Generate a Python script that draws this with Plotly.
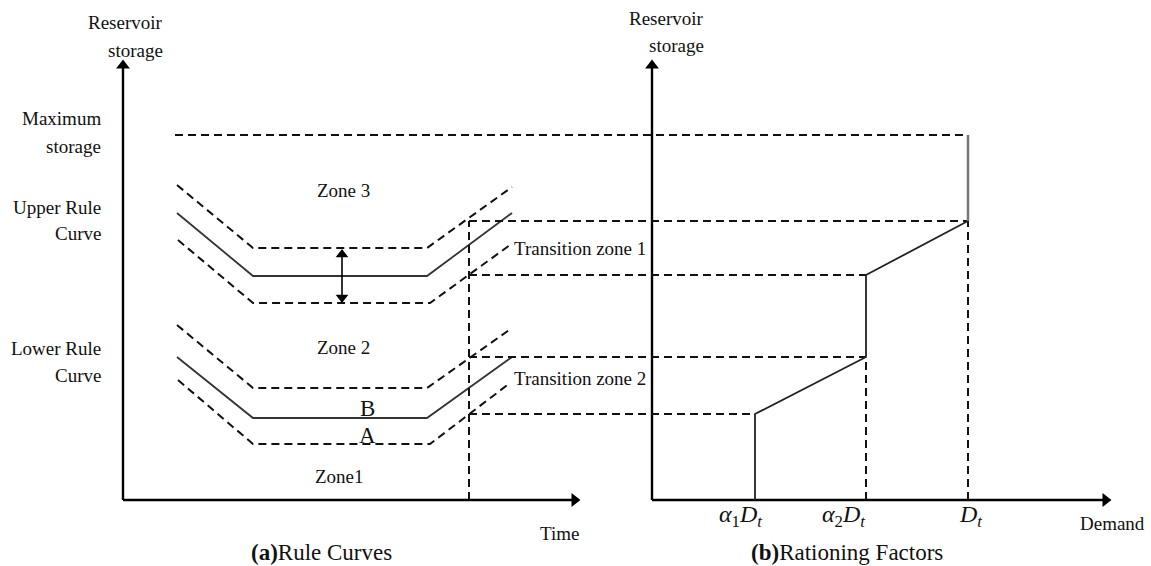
import plotly.graph_objects as go

# ---------------- schematic data (diagram units) ----------------
# storage levels
AXIS_TOP = 4.40
MAX_STORAGE = 3.65
# rule-curve knots (time) and storage values
T_KNOTS = [0.54, 1.30, 3.04, 3.89]
T_KNOTS_LOW = [0.55, 1.30, 3.07, 3.87]
URC_TOP = [3.15, 2.52, 2.52, 3.13]
URC = [2.87, 2.24, 2.24, 2.87]
URC_LOW = [2.60, 1.97, 1.97, 2.55]
LRC_TOP = [1.75, 1.12, 1.12, 1.72]
LRC = [1.43, 0.82, 0.82, 1.43]
LRC_LOW = [1.20, 0.56, 0.56, 1.17]
T_MAX_START = 0.52
T_CUT = 3.46
T_AXIS_END = 4.57
# storage levels at the cut time (transition zone limits)
LEVELS = [2.79, 2.25, 1.43, 0.86]
# demand panel positions
DEMAND_ORIGIN = 5.29
ALPHA1 = 6.32
ALPHA2 = 7.43
DT = 8.45
DEMAND_AXIS_END = 9.88
DEMAND_TICKS = [6.17, 7.20, 8.47]
DEMAND_TICK_TEXT = ["<i>α</i><sub>1</sub><i>D</i><sub><i>t</i></sub>",
                    "<i>α</i><sub>2</sub><i>D</i><sub><i>t</i></sub>",
                    "<i>D</i><sub><i>t</i></sub>"]
SPREAD_T = 2.19
SPREAD_Y = [2.50, 1.98]

FONT = "Liberation Serif"
DASH = "8px,5px"
HEAD = 0.05  # arrowhead centre offset from tip (diagram units)
fig = go.Figure()


def line(x, y, dash=None, color="#222", width=1.8):
    fig.add_trace(go.Scatter(x=x, y=y, mode="lines", hoverinfo="skip",
                             line=dict(color=color, width=width, dash=dash or "solid")))


def head(x, y, symbol, size=12):
    fig.add_trace(go.Scatter(x=[x], y=[y], mode="markers", hoverinfo="skip",
                             marker=dict(symbol=symbol, size=size, color="#000",
                                         line=dict(width=0))))


# axes (left: time, right: demand)
line([0, 0], [0, AXIS_TOP - HEAD], None, "#000", 2.4)
line([0, T_AXIS_END - HEAD], [0, 0], None, "#000", 2.4)
line([DEMAND_ORIGIN, DEMAND_ORIGIN], [0, AXIS_TOP - HEAD], None, "#000", 2.4)
line([DEMAND_ORIGIN, DEMAND_AXIS_END - HEAD], [0, 0], None, "#000", 2.4)
head(0, AXIS_TOP - 0.055, "triangle-up")
head(DEMAND_ORIGIN, AXIS_TOP - 0.055, "triangle-up")
head(T_AXIS_END - 0.055, 0, "triangle-right")
head(DEMAND_AXIS_END - 0.055, 0, "triangle-right")

# rule curves (left panel)
line(T_KNOTS, URC_TOP, DASH, "#111", 2)
line(T_KNOTS, URC, None, "#333", 1.8)
line(T_KNOTS_LOW, URC_LOW, DASH, "#111", 2)
line(T_KNOTS, LRC_TOP, DASH, "#111", 2)
line(T_KNOTS, LRC, None, "#333", 1.8)
line(T_KNOTS_LOW, LRC_LOW, DASH, "#111", 2)

# buffer-zone double arrow
line([SPREAD_T, SPREAD_T], SPREAD_Y, None, "#000", 1.6)
head(SPREAD_T, SPREAD_Y[0] - 0.045, "triangle-up", 11)
head(SPREAD_T, SPREAD_Y[1] + 0.045, "triangle-down", 11)

# maximum storage line
line([T_MAX_START, DT], [MAX_STORAGE, MAX_STORAGE], DASH, "#111", 2)
# cut-time vertical
line([T_CUT, T_CUT], [0, LEVELS[0]], DASH, "#111", 2)
# horizontal projections
ends = [DT, ALPHA2, ALPHA2, ALPHA1]
for lev, xe in zip(LEVELS, ends):
    line([T_CUT, xe], [lev, lev], DASH, "#111", 2)
# vertical dashed in demand panel
line([ALPHA2, ALPHA2], [0, LEVELS[2]], DASH, "#111", 2)
line([DT, DT], [0, LEVELS[0]], DASH, "#111", 2)
# rationing curve
line([ALPHA1, ALPHA1, ALPHA2, ALPHA2, DT], [0, LEVELS[3], LEVELS[2], LEVELS[1], LEVELS[0]],
     None, "#222", 1.8)
line([DT, DT], [LEVELS[0], MAX_STORAGE], None, "#777", 2.5)

anns = []


def txt(x, y, s, anchor="center", size=19):
    anns.append(dict(x=x, y=y, xref="x", yref="y", text=s, showarrow=False, xanchor=anchor,
                     yanchor="middle", font=dict(family=FONT, size=size, color="#111")))


txt(0.42, 4.78, "Reservoir", "right")
txt(0.42, 4.50, "storage", "right")
txt(-0.20, 3.82, "Maximum", "right")
txt(-0.20, 3.54, "storage", "right")
txt(-0.20, 2.93, "Upper Rule", "right")
txt(-0.20, 2.67, "Curve", "right")
txt(-0.20, 1.52, "Lower Rule", "right")
txt(-0.20, 1.25, "Curve", "right")
txt(5.83, 4.82, "Reservoir", "right")
txt(5.83, 4.55, "storage", "right")
txt(2.20, 3.10, "Zone 3")
txt(2.20, 1.53, "Zone 2")
txt(2.16, 0.24, "Zone1")
txt(2.44, 0.92, "B", size=23)
txt(2.44, 0.65, "A", size=23)
txt(3.89, 2.52, "Transition zone 1", "left")
txt(3.89, 1.22, "Transition zone 2", "left")
txt(4.15, -0.33, "Time", "left")
txt(9.55, -0.23, "Demand", "left")
txt(1.98, -0.52, "<b>(a)</b>Rule Curves", size=23)
txt(7.24, -0.52, "<b>(b)</b>Rationing Factors", size=23)
for xv, s in zip(DEMAND_TICKS, DEMAND_TICK_TEXT):
    txt(xv, -0.16, s, size=24)

fig.update_layout(
    width=1151, height=566, margin=dict(l=0, r=0, t=0, b=0),
    paper_bgcolor="white", plot_bgcolor="white", showlegend=False,
    xaxis=dict(range=[-1.23, 10.28], visible=False, fixedrange=True),
    yaxis=dict(range=[-0.66, 5.00], visible=False, fixedrange=True),
    annotations=anns,
)
fig.write_html("out.html", config=dict(displayModeBar=False),
               post_script="document.body.style.margin='0';document.body.style.padding='0';"
                           "document.body.style.overflow='hidden';")
